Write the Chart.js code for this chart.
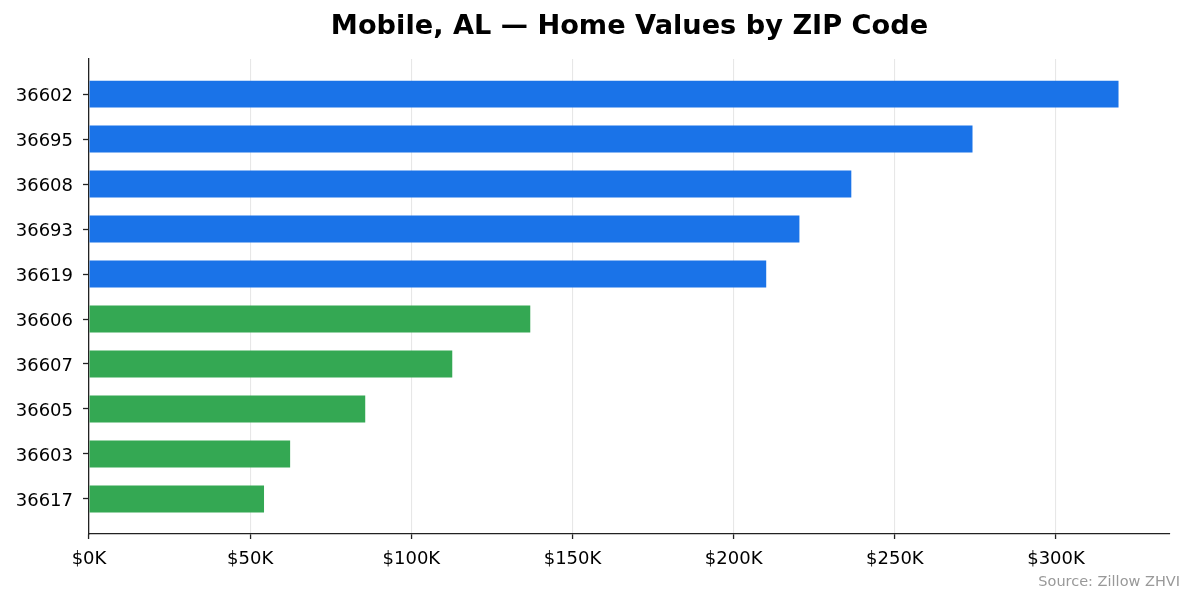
<!DOCTYPE html>
<html>
<head>
<meta charset="utf-8">
<script src="https://cdn.jsdelivr.net/npm/chart.js@4.4.1/dist/chart.umd.min.js"></script>
<style>
  body { margin: 0; background: #fff; }
  #wrap { width: 1195px; height: 603px; }
</style>
</head>
<body>
<div id="wrap"><canvas id="myChart" width="1195" height="603"></canvas></div>
<script>
// ZIP codes, top to bottom
const zipCodes = ['36602', '36695', '36608', '36693', '36619', '36606', '36607', '36605', '36603', '36617'];
// typical home value (USD)
const homeValues = [319400, 274100, 236500, 220400, 210100, 136900, 112700, 85700, 62400, 54300];
// upper / lower group
const valueGroup = ['high', 'high', 'high', 'high', 'high', 'low', 'low', 'low', 'low', 'low'];
// x axis ticks
const xTicks = [0, 50000, 100000, 150000, 200000, 250000, 300000];

const groupColors = { high: '#1a73e8', low: '#34a853' };
const fontFamily = "'DejaVu Sans', sans-serif";

// footnote bottom right
const sourceNote = {
    id: 'sourceNote',
    afterDraw(chart) {
        const ctx = chart.ctx;
        ctx.save();
        ctx.font = '14.5px ' + fontFamily;
        ctx.fillStyle = '#999999';
        ctx.textAlign = 'right';
        ctx.textBaseline = 'alphabetic';
        ctx.fillText('Source: Zillow ZHVI', 1180, 586);
        ctx.restore();
    }
};

const ctx = document.getElementById('myChart');
new Chart(ctx, {
    type: 'bar',
    data: {
        datasets: [{
            data: zipCodes.map(function(z, i) { return { x: homeValues[i], y: i }; }),
            backgroundColor: valueGroup.map(function(g) { return groupColors[g]; }),
            borderWidth: 0,
            barPercentage: 0.6,
            categoryPercentage: 1.0
        }]
    },
    options: {
        indexAxis: 'y',
        responsive: false,
        animation: false,
        devicePixelRatio: 1,
        layout: { padding: { left: 0, right: 25, top: 0, bottom: 0 } },
        scales: {
            x: {
                type: 'linear',
                bounds: 'data',
                min: 0,
                max: Math.max.apply(null, homeValues) * 1.05,
                z: 1,
                grid: {
                    color: 'rgba(176,176,176,0.3)',
                    lineWidth: 1.1,
                    tickColor: '#222',
                    tickLength: 5,
                    tickWidth: 1.3
                },
                border: { color: '#222', width: 1.3 },
                afterBuildTicks: function(scale) {
                    scale.ticks = xTicks.map(function(v) { return { value: v }; });
                },
                ticks: {
                    autoSkip: false,
                    maxRotation: 0,
                    padding: 10,
                    color: '#000',
                    font: { family: fontFamily, size: 18 },
                    callback: function(v) { return '$' + (v / 1000) + 'K'; }
                },
                afterFit: function(scale) { scale.height = 69; }
            },
            y: {
                type: 'linear',
                bounds: 'data',
                offset: false,
                reverse: true,
                min: -0.78,
                max: zipCodes.length - 1 + 0.78,
                grid: {
                    offset: false,
                    drawOnChartArea: false,
                    tickColor: '#222',
                    tickLength: 6,
                    tickWidth: 1.3
                },
                border: { color: '#222', width: 1.3 },
                afterBuildTicks: function(scale) {
                    scale.ticks = zipCodes.map(function(z, i) { return { value: i }; });
                },
                ticks: {
                    autoSkip: false,
                    padding: 10,
                    labelOffset: 2,
                    color: '#000',
                    font: { family: fontFamily, size: 18 },
                    callback: function(v) { return zipCodes[v]; }
                },
                afterFit: function(scale) { scale.width = 89; }
            }
        },
        plugins: {
            legend: { display: false },
            tooltip: { enabled: false },
            title: {
                display: true,
                fullSize: false,
                text: 'Mobile, AL — Home Values by ZIP Code',
                color: '#000',
                font: { family: fontFamily, size: 27.2, weight: 'bold', lineHeight: 1.2 },
                padding: { top: 11, bottom: 15.4 }
            }
        }
    },
    plugins: [sourceNote]
});
</script>
</body>
</html>
